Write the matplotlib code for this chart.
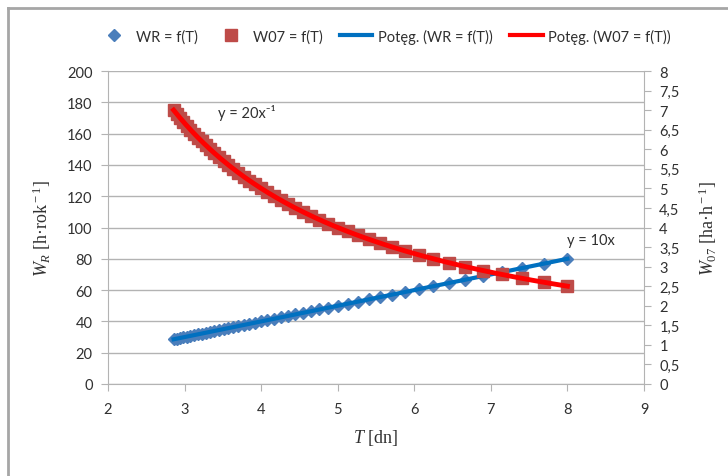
import numpy as np
import matplotlib
matplotlib.use('Agg')
import matplotlib.pyplot as plt
from matplotlib.lines import Line2D

plt.rcParams['font.family'] = ['Lato', 'DejaVu Sans']
plt.rcParams['mathtext.fontset'] = 'custom'
plt.rcParams['mathtext.rm'] = 'Liberation Serif'
plt.rcParams['mathtext.it'] = 'Liberation Serif:italic'

# data
T = [2.857, 2.899, 2.941, 2.985, 3.030, 3.077, 3.125, 3.175, 3.226, 3.279,
     3.333, 3.390, 3.448, 3.509, 3.571, 3.636, 3.704, 3.774, 3.846, 3.922,
     4.000, 4.082, 4.167, 4.255, 4.348, 4.444, 4.545, 4.651, 4.762, 4.878,
     5.000, 5.128, 5.263, 5.405, 5.556, 5.714, 5.882, 6.061, 6.250, 6.452,
     6.667, 6.897, 7.143, 7.407, 7.692, 8.000]
WR = [28.57, 28.99, 29.41, 29.85, 30.30, 30.77, 31.25, 31.75, 32.26, 32.79,
      33.33, 33.90, 34.48, 35.09, 35.71, 36.36, 37.04, 37.74, 38.46, 39.22,
      40.00, 40.82, 41.67, 42.55, 43.48, 44.44, 45.45, 46.51, 47.62, 48.78,
      50.00, 51.28, 52.63, 54.05, 55.56, 57.14, 58.82, 60.61, 62.50, 64.52,
      66.67, 68.97, 71.43, 74.07, 76.92, 80.00]
W07 = [7.0, 6.9, 6.8, 6.7, 6.6, 6.5, 6.4, 6.3, 6.2, 6.1,
       6.0, 5.9, 5.8, 5.7, 5.6, 5.5, 5.4, 5.3, 5.2, 5.1,
       5.0, 4.9, 4.8, 4.7, 4.6, 4.5, 4.4, 4.3, 4.2, 4.1,
       4.0, 3.9, 3.8, 3.7, 3.6, 3.5, 3.4, 3.3, 3.2, 3.1,
       3.0, 2.9, 2.8, 2.7, 2.6, 2.5]

x_ticks = [2, 3, 4, 5, 6, 7, 8, 9]
left_ticks = list(range(0, 201, 20))
right_ticks = [i * 0.5 for i in range(17)]

# power trendlines y = a * x^b
def power_fit(x, y):
    b, ln_a = np.polyfit(np.log(x), np.log(y), 1)
    return np.exp(ln_a), b

a1, b1 = power_fit(T, WR)
a2, b2 = power_fit(T, W07)
tt = np.linspace(min(T), max(T), 200)

fig = plt.figure(figsize=(7.28, 4.77), dpi=100)
ax = fig.add_axes([108 / 728, 1 - 385 / 477, 536 / 728, 313 / 477])
ax2 = ax.twinx()

grid_c = '#b3b3b3'
txt_c = '#303030'

ax.plot(T, WR, linestyle='none', marker='D', ms=6, color='#4a7ebb', zorder=3)
ax.plot(tt, a1 * tt ** b1, color='#0070c0', lw=3, zorder=4)
ax2.plot(T, W07, linestyle='none', marker='s', ms=8, color='#be4b48', zorder=3)
ax2.plot(tt, a2 * tt ** b2, color='#ff0000', lw=3.5, zorder=4)

ax.set_xlim(2, 9)
ax.set_ylim(0, 200)
ax2.set_ylim(0, 8)
ax.set_xticks(x_ticks)
ax.set_yticks(left_ticks)
ax2.set_yticks(right_ticks)
ax2.set_yticklabels([('%g' % v).replace('.', ',') for v in right_ticks])

ax.yaxis.grid(True, color=grid_c, lw=1)
ax.set_axisbelow(True)
for a in (ax, ax2):
    a.spines['top'].set_visible(False)
    for s in ('left', 'right', 'bottom'):
        a.spines[s].set_color(grid_c)
ax.spines['right'].set_visible(False)
ax2.spines['left'].set_visible(False)
ax2.spines['bottom'].set_visible(False)

ax.tick_params(axis='y', direction='out', length=5, color=grid_c, labelcolor=txt_c, labelsize=10.5, pad=6)
ax.tick_params(axis='x', direction='out', length=5, color=grid_c, labelcolor=txt_c, labelsize=10.5, pad=8)
ax2.tick_params(axis='y', direction='out', length=5, color=grid_c, labelcolor=txt_c, labelsize=10.5, pad=6)

serif = 'Liberation Serif'
ax.set_ylabel(r'$W_{R}$ [h·rok$^{\rm -1}$]', family=serif, fontsize=13, color=txt_c, labelpad=10)
ax2.set_ylabel(r'$W_{07}$ [ha·h$^{\rm -1}$]', family=serif, fontsize=13, color=txt_c, labelpad=12)
ax.set_xlabel(r'$T$ [dn]', family=serif, fontsize=13, color=txt_c, labelpad=8)

ax.text(3.44, 174, 'y = 20x⁻¹', fontsize=10.5, color=txt_c, va='center', ha='left')
ax.text(8.0, 92, 'y = 10x', fontsize=10.5, color=txt_c, va='center', ha='left')

handles = [
    Line2D([], [], linestyle='none', marker='D', ms=6, color='#4a7ebb'),
    Line2D([], [], linestyle='none', marker='s', ms=8, color='#be4b48'),
    Line2D([], [], color='#0070c0', lw=3),
    Line2D([], [], color='#ff0000', lw=3),
]
labels = ['WR = f(T)', 'W07 = f(T)', 'Potęg. (WR = f(T))', 'Potęg. (W07 = f(T))']
fig.legend(handles, labels, loc='center', bbox_to_anchor=(0.528, 1 - 37 / 477), ncol=4,
           frameon=False, fontsize=10.5, handlelength=2.2, columnspacing=1.2,
           handletextpad=0.4, labelcolor=txt_c)

# outer chart frame
fig.add_artist(Line2D([8 / 728, 8 / 728], [0, 1 - 9 / 477], transform=fig.transFigure, color='#a6a6a6', lw=2))
fig.add_artist(Line2D([8 / 728, 1], [1 - 9 / 477, 1 - 9 / 477], transform=fig.transFigure, color='#a6a6a6', lw=2))

fig.savefig('out.png', dpi=100)
